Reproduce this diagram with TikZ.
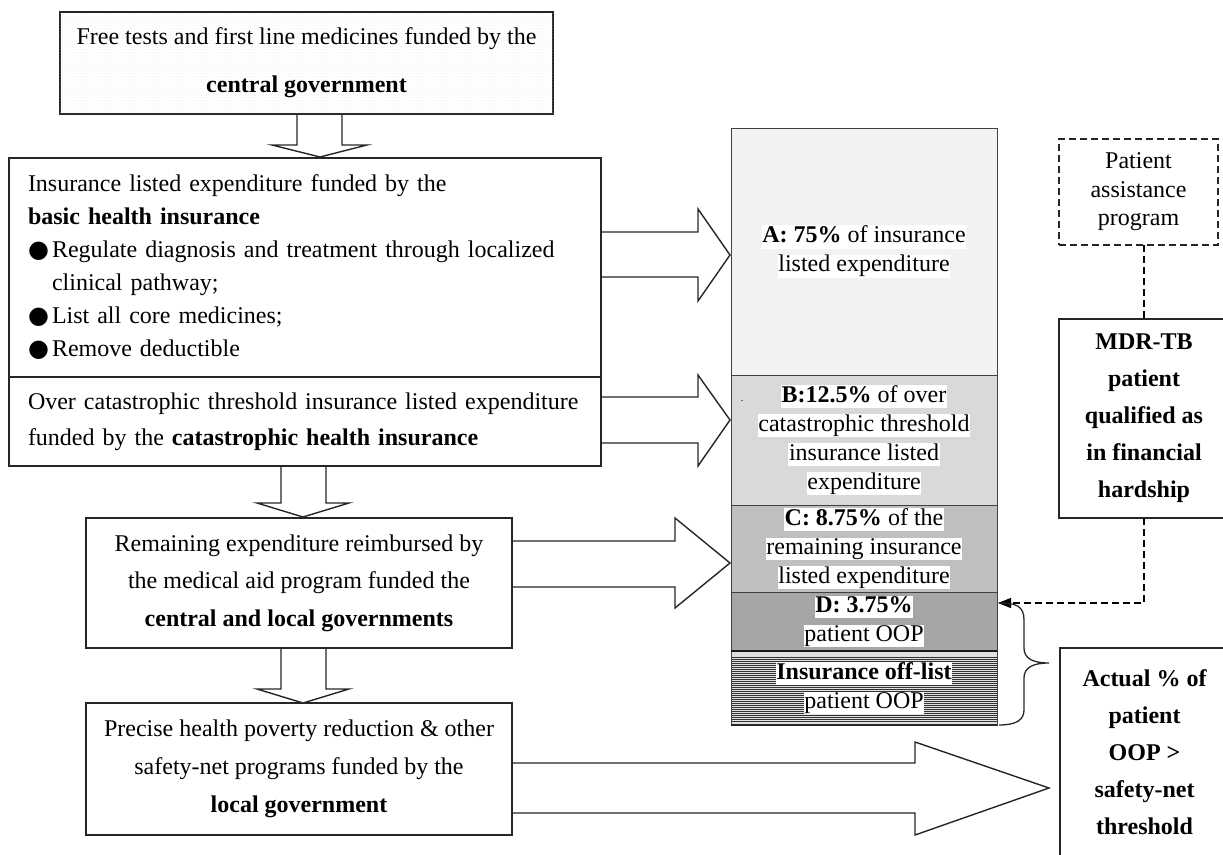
\documentclass[tikz,border=0pt]{standalone}
\usepackage{fontspec}
\setmainfont{Liberation Serif}
\newfontfamily\symfont{DejaVu Sans}
\usetikzlibrary{arrows.meta,patterns,calc}
\newcommand{\hlline}[1]{{\setlength{\fboxsep}{0.6pt}\colorbox{white}{\vphantom{Apg}#1}}}
\newcommand{\bulitem}{\makebox[24pt][l]{\symfont ●}}
\begin{document}
\begin{tikzpicture}[x=1pt,y=-1pt,line join=miter,
  box/.style={draw=black!85, line width=1.4pt, fill=white, inner sep=0pt, outer sep=0pt, align=center, font=\fontsize{24}{38}\selectfont},
  barseg/.style={draw=black!75, line width=1pt, inner sep=0pt, outer sep=0pt, minimum width=266pt, align=center, font=\fontsize{24}{29}\selectfont},
  blk/.style={draw=black!85, line width=1.4pt, fill=white},
  dashline/.style={dash pattern=on 7pt off 4pt, line width=1.4pt},
  stripe/.style={draw=black!80, line width=0.7pt}]
\useasboundingbox (0,0) rectangle (1223,854);

% ---- block arrows (drawn first, boxes cover their ends)
\filldraw[blk] (297,110) -- (297,145) -- (272,145) -- (320,157) -- (367,145) -- (342,145) -- (342,110);
\filldraw[blk] (281,462) -- (281,503) -- (257,503) -- (303,517) -- (349,503) -- (326,503) -- (326,462);
\filldraw[blk] (281,644) -- (281,689) -- (257,689) -- (303,703) -- (349,689) -- (326,689) -- (326,644);
\filldraw[blk] (596,232) -- (698,232) -- (698,209) -- (730,255) -- (698,301) -- (698,277) -- (596,277);
\filldraw[blk] (596,397) -- (698,397) -- (698,375) -- (730,420) -- (698,466) -- (698,443) -- (596,443);
\filldraw[blk] (507,541) -- (675,541) -- (675,518) -- (730,563) -- (675,608) -- (675,587) -- (507,587);
\filldraw[blk] (507,763) -- (915,763) -- (915,742) -- (1049,788) -- (915,835) -- (915,813) -- (507,813);

% ---- left boxes
\node[box, minimum width=493pt, minimum height=102pt, font=\fontsize{24}{48}\selectfont,
      fill=white, postaction={pattern=dots, pattern color=gray!22}] (top) at (306.5,63)
  {Free tests and first line medicines funded by the\\\textbf{central government}};
\node[box, align=left, text width=554pt, inner xsep=19pt, minimum height=219pt,
      font=\fontsize{24}{33}\selectfont] (basic) at (305,267.5)
  {Insurance listed expenditure funded by the\\
   \textbf{basic health insurance}\\
   \bulitem Regulate diagnosis and treatment through localized\\
   \hspace*{24pt}clinical pathway;\\
   \bulitem List all core medicines;\\
   \bulitem Remove deductible};
\node[box, align=left, text width=554pt, inner xsep=19pt, minimum height=89pt,
      font=\fontsize{24}{36}\selectfont] (catas) at (305,421.5)
  {Over catastrophic threshold insurance listed expenditure\\
   funded by the \textbf{catastrophic health insurance}};
\node[box, minimum width=426pt, minimum height=130pt, font=\fontsize{24}{37.5}\selectfont] (aid) at (299,583)
  {Remaining expenditure reimbursed by\\the medical aid program funded the\\\textbf{central and local governments}};
\node[box, minimum width=426pt, minimum height=132pt] (local) at (299,769)
  {Precise health poverty reduction \& other\\safety-net programs funded by the\\\textbf{local government}};

% ---- stacked bar
\node[barseg, fill=gray!10, minimum height=247pt] (A) at (864,251.5)
  {\hlline{\textbf{A: 75\%} of insurance}\\\hlline{listed expenditure}};
\node[barseg, fill=gray!30, minimum height=130pt] (B) at (864,440)
  {\hlline{\textbf{B:12.5\%} of over}\\\hlline{catastrophic threshold}\\\hlline{insurance listed}\\\hlline{expenditure}};
\node[font=\fontsize{10}{10}\selectfont, inner sep=0pt] (dotB) at (742,401) {.};
\node[barseg, fill=gray!50, minimum height=87pt] (C) at (864,548.5)
  {\hlline{\textbf{C: 8.75\%} of the}\\\hlline{remaining insurance}\\\hlline{listed expenditure}};
\node[barseg, fill=gray!70, minimum height=59pt] (D) at (864,621.5)
  {\hlline{\textbf{D: 3.75\%}}\\\hlline{patient OOP}};
\node[barseg, fill=gray!25, minimum height=74pt,
      path picture={\foreach \i in {3,...,35}{\draw[stripe] ([yshift=-\i*2pt]path picture bounding box.north west) -- ([yshift=-\i*2pt]path picture bounding box.north east);}}] (off) at (864,688)
  {\hlline{\textbf{Insurance off-list}}\\\hlline{patient OOP}};
\draw[line width=1.8pt, black!90] (off.north west) -- (off.north east);
\draw[line width=1.6pt, black!85] (off.south west) -- (off.south east);

% ---- right boxes
\node[box, dashline, minimum width=159pt, minimum height=106pt, font=\fontsize{24}{28.5}\selectfont] (pap) at (1138.5,192)
  {Patient\\assistance\\program};
\node[box, minimum width=170pt, minimum height=199pt, font=\bfseries\fontsize{24}{37}\selectfont] (mdr) at (1144,418.5)
  {MDR-TB\\patient\\qualified as\\in financial\\hardship};
\node[box, minimum width=169pt, minimum height=208pt, font=\bfseries\fontsize{24}{37}\selectfont] (actual) at (1144.5,752)
  {Actual \% of\\patient\\OOP >\\safety-net\\threshold};

% ---- dashed connectors
\draw[dashline] (mdr.north |- pap.south) -- (mdr.north);
\coordinate (dtip) at (998,603);
\draw[dashline, -{Triangle[length=13pt,width=10pt]}] (mdr.south) |- (dtip);

% ---- brace
\coordinate (brtop) at (999,603);
\coordinate (brbot) at (999,725);
\coordinate (brtip) at (1049,663);
\draw[line width=1.3pt, black!85] (brtop) .. controls (1016,603) and (1024,606) .. (1024,620) -- (1024,648)
  .. controls (1024,658) and (1032,663) .. (brtip)
  .. controls (1032,663) and (1024,668) .. (1024,678) -- (1024,710)
  .. controls (1024,720) and (1016,725) .. (brbot);
\end{tikzpicture}
\end{document}
